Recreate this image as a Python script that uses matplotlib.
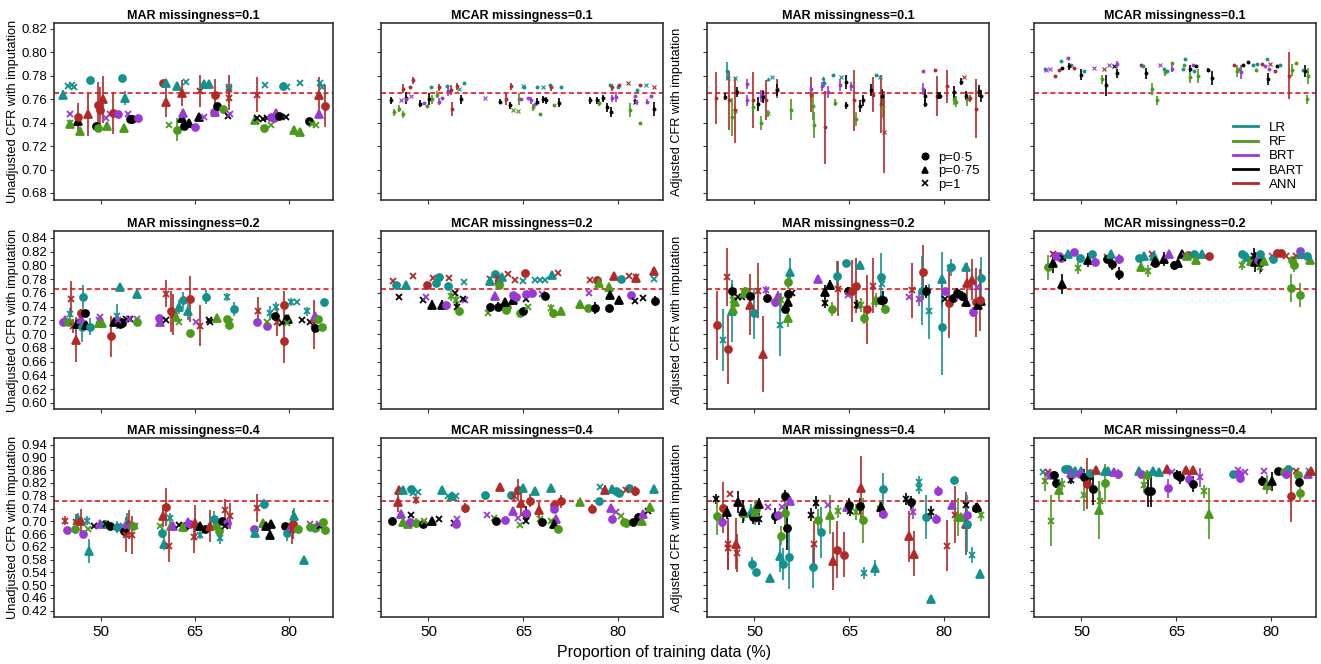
import numpy as np
import matplotlib
matplotlib.use("Agg")
import matplotlib.pyplot as plt
from matplotlib.lines import Line2D

plt.rcParams['font.family'] = ['Liberation Sans', 'DejaVu Sans']

# models and their colours
model_names = ['LR', 'RF', 'BRT', 'BART', 'ANN']
model_codes = ['L', 'F', 'B', 'K', 'A']
model_colors = ['#14918d', '#4b9a1b', '#9a3ad4', '#000000', '#b02a28']
shape_labels = ['p=0·5', 'p=0·75', 'p=1']
shape_markers = ['o', '^', 'x']
x_ticks = [50, 65, 80]
reference_cfr = 0.765

# each point: (training data %, CFR, half length of error bar, model code + marker)
mar01_unadj = [
    (44.0, .764, .004, 'L^'), (44.8, .771, 0, 'Lx'), (45.3, .772, 0, 'Lx'), (45.7, .770, 0, 'Lx'),
    (45.1, .739, 0, 'F^'), (45.1, .740, 0, 'Fx'), (46.6, .733, .003, 'F^'), (45.1, .747, 0, 'Bx'),
    (46.3, .741, 0, 'K^'), (46.4, .745, .012, 'Ao'), (48.0, .747, .018, 'A^'), (48.2, .776, .003, 'Lo'),
    (49.2, .737, 0, 'Ko'), (49.5, .755, .02, 'Ao'), (49.8, .751, .019, 'Ao'), (49.6, .735, 0, 'Fo'),
    (50.3, .760, .02, 'A^'), (51.0, .737, 0, 'F^'), (50.8, .744, 0, 'Bx'), (51.5, .747, 0, 'Bx'),
    (52.0, .748, .018, 'Ao'), (52.8, .747, 0, 'Bo'), (53.3, .778, 0, 'Lo'), (53.7, .735, 0, 'F^'),
    (53.9, .761, .006, 'L^'), (54.4, .747, 0, 'Bx'), (54.6, .743, 0, 'Ko'), (54.9, .743, 0, 'Ko'),
    (55.9, .744, 0, 'Bo'),
    (60.0, .774, 0, 'Ao'), (60.4, .774, 0, 'L^'), (60.4, .758, .013, 'A^'), (60.9, .738, 0, 'Fx'),
    (62.2, .734, .01, 'Fo'), (62.2, .771, 0, 'L^'), (62.9, .765, .011, 'A^'), (62.9, .744, 0, 'K^'),
    (63.1, .748, 0, 'B^'), (63.3, .737, 0, 'Ko'), (64.1, .740, 0, 'K^'), (63.6, .775, 0, 'Lx'),
    (65.0, .736, 0, 'Bo'), (65.7, .745, 0, 'K^'), (65.8, .767, .014, 'Ax'), (66.4, .745, 0, 'Bx'),
    (66.5, .773, 0, 'L^'), (67.3, .773, 0, 'L^'), (68.2, .764, .013, 'Ao'), (68.3, .749, 0, 'B^'),
    (68.0, .749, 0, 'Bo'), (68.5, .754, 0, 'Ko'), (69.5, .752, 0, 'Fo'), (70.4, .769, .012, 'Ax'),
    (70.4, .761, .01, 'Ax'), (70.4, .770, 0, 'Lx'), (70.3, .746, 0, 'Kx'), (70.6, .747, 0, 'Bx'),
    (74.7, .742, 0, 'F^'), (74.9, .764, .015, 'Ax'), (74.9, .744, 0, 'Kx'), (75.9, .743, 0, 'Kx'),
    (76.5, .744, 0, 'Kx'), (76.1, .735, .003, 'Fo'), (76.2, .772, 0, 'Lx'), (77.2, .738, 0, 'Fx'),
    (77.2, .745, 0, 'Bo'), (77.6, .744, 0, 'Bo'), (78.0, .748, 0, 'B^'), (78.4, .746, 0, 'Ko'),
    (79.6, .745, 0, 'Kx'), (79.1, .771, 0, 'Lo'), (79.8, .770, 0, 'Lx'), (80.8, .734, 0, 'F^'),
    (81.8, .732, 0, 'F^'), (81.9, .774, 0, 'Lx'), (83.2, .741, 0, 'Ko'), (83.7, .739, 0, 'Fx'),
    (84.4, .738, 0, 'Fx'), (84.8, .764, .015, 'A^'), (84.8, .747, 0, 'B^'), (85.0, .774, 0, 'Lx'),
    (85.3, .770, 0, 'Lx'), (85.9, .754, .018, 'Ao'),
]

mcar01_unadj = [
    (44.1, .759, .003, 'Ko'), (44.5, .749, .003, 'Fo'), (45.4, .752, .003, 'Fo'), (46.0, .747, .003, 'Fo'),
    (46.0, .769, .004, 'Ao'), (47.1, .770, 0, 'Ao'), (47.6, .776, .003, 'Ao'), (46.4, .761, .005, 'Ko'),
    (45.7, .759, 0, 'Bx'), (46.5, .760, 0, 'Bo'), (47.3, .763, 0, 'Bx'), (48.7, .756, .003, 'Ko'),
    (49.3, .757, 0, 'Bo'), (49.7, .754, 0, 'Fo'), (50.1, .760, .005, 'Ko'), (50.4, .770, 0, 'Lo'),
    (50.5, .760, .004, 'Fo'), (51.3, .764, .003, 'Fo'), (51.6, .758, .003, 'Bo'), (52.2, .761, 0, 'Bo'),
    (51.7, .770, .003, 'Ao'), (52.9, .771, 0, 'Lo'), (53.1, .767, .004, 'Bo'), (53.5, .768, .004, 'Ao'),
    (53.8, .752, .006, 'Ao'), (54.5, .771, .003, 'Ao'), (54.9, .769, 0, 'Lx'), (55.6, .774, 0, 'Lo'),
    (55.2, .760, .004, 'Ko'),
    (59.0, .761, 0, 'Bx'), (61.3, .758, .002, 'Ko'), (62.3, .760, .005, 'Ao'), (62.9, .755, .003, 'Ko'),
    (63.0, .771, .003, 'Ao'), (63.4, .751, 0, 'Fx'), (64.2, .750, 0, 'Fx'), (64.3, .760, .005, 'Fo'),
    (65.0, .771, 0, 'Lx'), (65.1, .770, 0, 'Lo'), (64.6, .760, 0, 'Bo'), (65.7, .761, 0, 'Bo'),
    (66.3, .759, .003, 'Bo'), (66.6, .753, .003, 'Fo'), (66.9, .756, 0, 'Bo'), (67.1, .758, .003, 'Ko'),
    (67.2, .770, 0, 'Lo'), (67.7, .747, 0, 'Fo'), (68.2, .770, 0, 'Lx'), (68.1, .760, .003, 'Ko'),
    (68.6, .759, .003, 'Ko'), (69.3, .772, 0, 'Lo'), (69.4, .770, .003, 'Ao'), (69.8, .755, 0, 'Fo'),
    (70.7, .757, .004, 'Ko'), (70.9, .770, 0, 'Lo'),
    (75.5, .759, .003, 'Ko'), (76.6, .759, .003, 'Ko'), (77.0, .757, .003, 'Fo'), (78.2, .753, .004, 'Ko'),
    (78.8, .749, .004, 'Ko'), (77.6, .761, .003, 'Ko'), (78.7, .772, 0, 'Lo'), (79.1, .770, .003, 'Ao'),
    (79.1, .761, .003, 'Bo'), (79.7, .762, .004, 'Bo'), (80.0, .770, 0, 'Lo'), (80.2, .772, 0, 'Ao'),
    (81.5, .774, 0, 'Ax'), (81.9, .751, .006, 'Fo'), (82.6, .758, .002, 'Kx'), (82.7, .763, 0, 'Bo'),
    (82.8, .758, 0, 'Bo'), (83.0, .768, 0, 'Lo'), (83.5, .772, 0, 'Ao'), (84.4, .772, 0, 'Lx'),
    (83.5, .740, 0, 'Fo'), (84.6, .758, .002, 'Bo'), (85.7, .770, 0, 'Ax'), (85.6, .752, .006, 'Ko'),
    (85.2, .763, 0, 'Bo'),
]

mar01_adj = [
    (44.0, .761, .022, 'Ao'), (45.3, .762, .003, 'Ko'), (45.6, .784, .008, 'Lo'), (45.9, .778, 0, 'Lx'),
    (47.0, .778, 0, 'Lx'), (46.0, .759, .025, 'Ao'), (47.3, .766, .004, 'Ko'), (46.5, .745, .016, 'Fo'),
    (47.0, .750, .003, 'Fx'), (47.0, .751, .028, 'Ao'), (48.9, .773, .004, 'Bo'), (48.9, .759, .005, 'Bo'),
    (49.7, .759, .024, 'Ao'), (49.8, .753, .006, 'Fo'), (50.5, .756, .006, 'Ko'), (51.0, .740, .006, 'Fo'),
    (51.0, .763, .005, 'Bo'), (51.4, .763, .005, 'Bo'), (51.3, .762, .005, 'Ko'), (51.8, .759, .017, 'Ao'),
    (52.2, .748, .003, 'Fx'), (52.1, .777, 0, 'L^'), (52.8, .779, 0, 'Lx'), (53.6, .769, .008, 'Ao'),
    (53.6, .768, .005, 'Ko'), (55.8, .751, .009, 'Fo'),
    (59.0, .764, .015, 'Ao'), (59.0, .769, .004, 'Bo'), (59.2, .754, .012, 'Fo'), (59.4, .738, .011, 'Fo'),
    (60.8, .778, 0, 'L^'), (61.0, .774, .004, 'Lo'), (62.4, .781, 0, 'Lo'), (63.7, .779, 0, 'Lx'),
    (60.7, .771, .004, 'Bo'), (61.7, .766, .005, 'Bo'), (61.2, .736, .031, 'Ao'), (62.8, .757, .003, 'Fo'),
    (64.5, .775, .006, 'Ko'), (63.6, .772, .005, 'Bo'), (65.2, .771, .004, 'Bo'), (64.5, .755, .003, 'Ko'),
    (65.7, .759, .026, 'Ao'), (66.0, .743, .006, 'Fo'), (66.7, .754, .005, 'Ko'), (67.2, .759, .005, 'Ko'),
    (68.5, .768, .005, 'Ko'), (69.2, .781, 0, 'Lo'), (69.8, .779, 0, 'Lx'), (68.7, .764, .015, 'Ao'),
    (70.2, .763, .006, 'Ko'), (70.0, .756, .025, 'Ao'), (70.4, .753, .009, 'Fo'), (70.5, .732, .035, 'Ax'),
    (76.6, .784, 0, 'Bo'), (76.6, .769, .005, 'Bo'), (77.0, .756, .003, 'Ko'), (77.0, .763, .006, 'Ko'),
    (78.6, .785, 0, 'Ao'), (78.8, .763, .017, 'Ao'), (79.1, .763, .003, 'Ko'), (79.4, .763, .003, 'Ko'),
    (80.4, .771, .014, 'Ao'), (82.7, .775, .003, 'Ko'), (83.1, .779, 0, 'Ax'), (81.5, .760, .005, 'Fo'),
    (81.9, .758, .005, 'Fo'), (81.5, .766, .005, 'Ko'), (83.6, .760, .006, 'Fo'), (83.4, .763, .004, 'Ko'),
    (84.1, .761, .003, 'Ao'), (85.0, .752, .025, 'Ao'), (85.5, .767, .005, 'Ko'), (85.9, .763, .005, 'Ko'),
]

mcar01_adj = [
    (44.3, .786, 0, 'Lo'), (44.4, .785, 0, 'Bx'), (45.0, .786, 0, 'Bx'), (45.9, .780, 0, 'Ao'),
    (46.4, .785, 0, 'Ao'), (46.8, .793, 0, 'Lo'), (46.9, .787, 0, 'Ko'), (47.9, .795, 0, 'Bo'),
    (48.3, .789, 0, 'Lo'), (48.1, .788, .003, 'Ko'), (48.8, .787, 0, 'Ao'), (49.9, .781, .005, 'Ko'),
    (50.4, .784, 0, 'Lo'), (52.0, .787, 0, 'Bx'), (53.2, .777, .004, 'Fo'), (53.9, .772, .009, 'Ko'),
    (53.6, .786, 0, 'Ax'), (54.3, .789, 0, 'Bx'), (55.2, .788, 0, 'Kx'), (55.7, .790, .003, 'Bo'),
    (55.7, .782, .004, 'Ko'),
    (59.4, .789, 0, 'Ao'), (59.8, .788, 0, 'Lo'), (60.2, .782, .005, 'Ko'), (61.1, .769, .005, 'Fo'),
    (62.0, .759, .004, 'Fo'), (62.5, .789, 0, 'Bx'), (63.1, .786, 0, 'Lo'), (63.5, .784, 0, 'Lo'),
    (63.2, .783, .003, 'Fo'), (64.3, .791, 0, 'Fo'), (64.3, .786, .003, 'Bo'), (66.0, .786, 0, 'Lo'),
    (66.4, .794, 0, 'Lo'), (66.3, .789, 0, 'Fo'), (67.2, .779, .005, 'Fo'), (67.2, .786, .003, 'Ko'),
    (67.6, .789, 0, 'Bo'), (68.1, .788, 0, 'Ko'), (67.8, .784, 0, 'Lo'), (68.4, .780, .006, 'Fo'),
    (70.0, .785, .002, 'Ko'), (70.7, .778, .006, 'Ko'),
    (74.1, .789, 0, 'Ao'), (74.6, .784, .005, 'Fo'), (74.9, .786, 0, 'Fo'), (75.3, .783, .006, 'Bo'),
    (76.4, .792, 0, 'Ko'), (75.5, .789, 0, 'Ko'), (77.1, .789, 0, 'Lo'), (77.6, .785, 0, 'Fo'),
    (77.8, .790, 0, 'Lo'), (79.4, .794, 0, 'Lo'), (78.6, .790, 0, 'Ao'), (79.9, .790, 0, 'Ax'),
    (79.1, .788, 0, 'Bo'), (79.6, .786, 0, 'Bo'), (79.5, .777, .005, 'Ko'), (81.0, .788, 0, 'Ko'),
    (80.6, .784, 0, 'Ao'), (81.4, .789, 0, 'Lo'), (82.8, .780, .02, 'Ao'), (83.3, .785, .005, 'Fo'),
    (83.9, .791, 0, 'Fo'), (85.0, .785, 0, 'Lo'), (85.3, .784, .005, 'Ko'), (85.8, .780, .007, 'Fo'),
    (85.6, .760, .004, 'Fo'),
]

mar02_unadj = [
    (44.0, .717, 0, 'Bo'), (44.3, .721, 0, 'B^'), (45.0, .729, .009, 'Lx'), (45.2, .751, .026, 'Ax'),
    (44.8, .717, 0, 'Fo'), (45.5, .712, .01, 'Ax'), (46.0, .692, .033, 'A^'), (46.2, .716, 0, 'F^'),
    (46.1, .714, 0, 'K^'), (46.8, .722, 0, 'B^'), (46.8, .731, .006, 'Ao'), (47.5, .730, 0, 'Ko'),
    (46.9, .711, .023, 'Lo'), (47.6, .713, 0, 'K^'), (47.2, .754, .018, 'Lo'), (48.2, .711, .012, 'Lo'),
    (49.7, .721, 0, 'Bx'), (49.7, .716, 0, 'F^'), (50.2, .716, 0, 'F^'), (49.8, .725, 0, 'Bx'),
    (51.6, .697, .03, 'Ao'), (52.6, .726, .018, 'Lx'), (52.1, .717, 0, 'K^'), (53.0, .714, 0, 'Ko'),
    (53.2, .717, 0, 'Ko'), (53.4, .716, 0, 'Ko'), (53.1, .768, .005, 'L^'), (52.8, .721, 0, 'Bx'),
    (54.0, .722, 0, 'Kx'), (54.6, .722, 0, 'Kx'), (54.5, .722, 0, 'Bx'), (55.7, .722, 0, 'Bx'),
    (55.7, .759, .007, 'L^'), (55.7, .717, 0, 'Fo'),
    (59.3, .723, 0, 'Bo'), (59.5, .717, 0, 'B^'), (60.4, .721, 0, 'Kx'), (60.4, .759, .02, 'Ax'),
    (61.2, .733, .03, 'Ao'), (61.6, .729, .03, 'Ao'), (62.0, .725, 0, 'F^'), (62.5, .718, 0, 'Fx'),
    (62.5, .739, .01, 'L^'), (63.2, .749, .012, 'Lo'), (63.9, .733, .012, 'L^'), (64.3, .751, .034, 'Ao'),
    (64.3, .701, .003, 'Fo'), (65.2, .718, 0, 'Bx'), (65.9, .712, .03, 'Ax'), (66.8, .754, .01, 'Lo'),
    (67.2, .721, 0, 'Kx'), (67.5, .718, 0, 'Kx'), (68.6, .723, 0, 'F^'), (70.1, .754, .006, 'Lx'),
    (70.2, .722, 0, 'Fo'), (70.4, .713, 0, 'Fo'), (70.7, .718, 0, 'Fx'), (71.2, .736, .01, 'Lo'),
    (75.1, .734, .02, 'Ax'), (75.0, .717, 0, 'Bo'), (76.5, .712, 0, 'Bo'), (76.6, .717, 0, 'Fx'),
    (77.0, .731, .01, 'Lx'), (78.1, .717, .02, 'Ax'), (77.9, .726, 0, 'Ko'), (78.9, .716, 0, 'Kx'),
    (79.3, .742, .02, 'Ao'), (79.3, .690, .032, 'Ao'), (78.0, .740, .007, 'Lx'), (79.6, .722, 0, 'K^'),
    (79.9, .722, 0, 'K^'), (79.7, .716, 0, 'Fx'), (80.4, .747, .006, 'Lx'), (81.4, .747, 0, 'Lx'),
    (82.2, .721, 0, 'Kx'), (83.4, .718, 0, 'Kx'), (84.0, .714, .035, 'Ax'), (82.9, .733, .006, 'Lx'),
    (84.2, .727, 0, 'B^'), (84.7, .722, 0, 'Fo'), (84.2, .709, 0, 'Ko'), (85.3, .710, 0, 'Fo'),
    (85.6, .746, .007, 'Lo'),
]

mcar02_unadj = [
    (44.4, .777, 0, 'Ax'), (44.8, .772, 0, 'Lo'), (45.4, .754, 0, 'Kx'), (46.5, .771, 0, 'L^'),
    (47.6, .784, 0, 'Ax'), (49.2, .750, 0, 'Kx'), (49.6, .754, 0, 'Bx'), (50.5, .743, .006, 'K^'),
    (49.7, .772, 0, 'Ao'), (50.7, .782, 0, 'Ax'), (51.2, .775, 0, 'Lo'), (51.7, .783, 0, 'Lo'),
    (52.1, .743, .006, 'K^'), (52.8, .742, 0, 'Bo'), (53.3, .782, 0, 'Ax'), (53.1, .770, 0, 'Lo'),
    (54.2, .760, 0, 'Kx'), (53.6, .755, .007, 'Fx'), (54.4, .750, .007, 'Fx'), (54.5, .740, .007, 'Kx'),
    (54.8, .733, 0, 'Fo'), (55.8, .750, 0, 'Bx'), (55.4, .751, 0, 'Kx'), (55.6, .776, 0, 'Lx'),
    (59.4, .730, 0, 'Fx'), (59.7, .739, .006, 'Ko'), (59.7, .780, 0, 'Ax'), (59.8, .777, 0, 'L^'),
    (60.5, .788, 0, 'Lo'), (60.5, .755, 0, 'B^'), (61.0, .740, .006, 'Ko'), (61.1, .779, 0, 'A^'),
    (61.0, .781, 0, 'Ax'), (61.2, .772, .007, 'Fo'), (61.7, .783, 0, 'L^'), (62.2, .735, 0, 'Fo'),
    (62.5, .740, 0, 'Fo'), (62.1, .746, .006, 'K^'), (62.6, .788, 0, 'Ax'), (63.4, .749, .006, 'K^'),
    (63.4, .757, 0, 'Bo'), (63.8, .754, 0, 'Bo'), (63.7, .779, 0, 'Ax'), (64.5, .730, 0, 'Fo'),
    (65.0, .733, 0, 'Ko'), (65.2, .789, .004, 'Ao'), (65.0, .777, 0, 'Lx'), (65.5, .751, 0, 'Kx'),
    (65.5, .758, 0, 'Bo'), (66.4, .760, 0, 'Bo'), (65.8, .739, 0, 'Fx'), (66.9, .779, 0, 'Lx'),
    (67.7, .779, 0, 'Lx'), (68.4, .779, 0, 'Lx'), (67.9, .759, 0, 'Bx'), (68.4, .755, .006, 'Ko'),
    (69.6, .786, 0, 'L^'), (70.5, .789, 0, 'Ax'), (69.4, .738, .006, 'Fx'), (69.7, .730, .006, 'Fo'),
    (71.0, .734, 0, 'F^'),
    (74.0, .744, 0, 'F^'), (75.3, .738, 0, 'Fo'), (75.5, .779, 0, 'Ax'), (75.4, .760, 0, 'Bx'),
    (76.3, .738, .009, 'Ko'), (76.7, .778, 0, 'Ao'), (76.9, .775, 0, 'F^'), (78.5, .768, .006, 'F^'),
    (78.5, .738, 0, 'Ko'), (78.7, .757, .006, 'K^'), (79.4, .784, .005, 'A^'), (80.2, .750, .006, 'K^'),
    (80.4, .780, 0, 'Lo'), (81.8, .784, 0, 'Ax'), (82.0, .757, 0, 'Bo'), (82.6, .748, 0, 'Kx'),
    (82.8, .781, .004, 'A^'), (82.9, .783, 0, 'Ax'), (84.0, .752, 0, 'Kx'), (85.7, .792, 0, 'A^'),
    (85.7, .780, 0, 'Lx'), (85.9, .748, .007, 'Ko'),
]

mar02_adj = [
    (44.1, .713, .05, 'Ao'), (45.0, .691, .045, 'Lx'), (45.6, .783, .042, 'Ax'), (45.8, .678, .05, 'Ao'),
    (46.5, .763, .01, 'Ko'), (46.4, .733, .045, 'L^'), (46.6, .736, .007, 'F^'), (46.6, .750, .012, 'Fx'),
    (46.9, .747, .007, 'F^'), (47.4, .754, 0, 'Kx'), (48.0, .754, 0, 'Kx'), (48.5, .763, .006, 'Fo'),
    (48.3, .760, 0, 'F^'), (49.3, .755, 0, 'Ko'), (49.3, .743, .045, 'A^'), (49.9, .730, .037, 'Lo'),
    (50.5, .763, .04, 'Ax'), (51.4, .671, .055, 'A^'), (51.9, .764, .006, 'Bx'), (52.0, .752, .007, 'Ko'),
    (53.2, .746, .006, 'Bo'), (53.7, .755, .007, 'B^'), (54.0, .713, .045, 'Lx'), (54.2, .750, .01, 'Fx'),
    (54.9, .736, .006, 'Ko'), (55.3, .746, .01, 'K^'), (55.3, .758, .006, 'Ko'), (55.3, .776, .01, 'Fo'),
    (55.3, .723, .012, 'F^'), (55.6, .791, .02, 'L^'), (55.9, .760, 0, 'Kx'),
    (60.1, .780, .006, 'B^'), (61.1, .761, .01, 'K^'), (61.1, .745, .007, 'Kx'), (62.2, .736, .01, 'Fo'),
    (61.9, .771, .007, 'K^'), (63.0, .785, .022, 'Lo'), (63.2, .766, .04, 'Ax'), (64.5, .804, 0, 'Lo'),
    (64.8, .763, .005, 'Ko'), (64.8, .757, 0, 'Bx'), (65.4, .763, .045, 'Ao'), (66.7, .801, 0, 'L^'),
    (66.1, .770, .04, 'Ao'), (66.2, .743, .007, 'Kx'), (66.8, .742, .01, 'Fx'), (67.3, .724, .01, 'Fo'),
    (67.8, .736, .05, 'Ao'), (68.8, .770, .04, 'Ax'), (69.3, .750, .01, 'F^'), (70.0, .750, .007, 'Ko'),
    (70.0, .783, .035, 'Lo'), (70.2, .773, 0, 'Lx'), (70.4, .750, .012, 'Ko'), (70.6, .736, .007, 'Fo'),
    (74.4, .754, 0, 'Bx'), (74.9, .764, .04, 'Ax'), (76.0, .751, .01, 'Bx'), (76.6, .790, .04, 'Ao'),
    (76.5, .763, .05, 'Lo'), (77.1, .762, .01, 'Ko'), (77.6, .733, .04, 'Lx'), (79.6, .711, .07, 'Lo'),
    (79.6, .780, .04, 'L^'), (80.2, .763, 0, 'Bo'), (80.2, .751, 0, 'Kx'), (80.9, .796, 0, 'Lx'),
    (81.1, .797, .012, 'Lo'), (80.8, .745, .05, 'Ao'), (81.4, .752, .007, 'Ko'), (82.3, .754, 0, 'Bx'),
    (82.0, .760, .007, 'Ko'), (82.8, .755, .007, 'Ko'), (83.5, .746, .007, 'K^'), (83.5, .797, 0, 'L^'),
    (83.6, .774, .03, 'A^'), (84.4, .779, .03, 'A^'), (84.5, .732, .007, 'Bo'), (85.0, .746, .05, 'Ao'),
    (85.2, .768, 0, 'Bx'), (85.3, .743, 0, 'K^'), (85.9, .748, 0, 'K^'), (85.8, .782, .03, 'Lo'),
    (85.6, .749, .045, 'Ao'),
]

mcar02_adj = [
    (44.7, .797, .018, 'Fo'), (45.5, .804, .015, 'K^'), (45.5, .816, 0, 'Ax'), (46.0, .813, 0, 'Bo'),
    (46.4, .813, 0, 'Bo'), (46.8, .811, 0, 'Bo'), (47.1, .810, 0, 'Kx'), (46.9, .773, .014, 'K^'),
    (47.8, .816, 0, 'L^'), (48.9, .819, 0, 'Bo'), (49.8, .810, 0, 'Lo'), (49.5, .796, .009, 'Fx'),
    (51.0, .808, .01, 'K^'), (51.7, .816, 0, 'Lo'), (52.2, .805, .006, 'Bo'), (54.0, .812, 0, 'Ax'),
    (54.0, .809, .006, 'Ko'), (54.6, .817, 0, 'L^'), (54.8, .802, .009, 'Ko'), (55.9, .809, .007, 'Bo'),
    (55.9, .788, .009, 'Ko'),
    (59.1, .811, 0, 'Lo'), (59.9, .813, 0, 'L^'), (59.4, .798, .007, 'F^'), (60.5, .792, .009, 'Fx'),
    (61.2, .816, 0, 'Ax'), (61.4, .813, 0, 'L^'), (61.7, .807, .007, 'K^'), (61.7, .804, 0, 'Ko'),
    (63.0, .809, .01, 'K^'), (63.8, .816, 0, 'B^'), (64.6, .800, .007, 'Ko'), (65.2, .803, .007, 'K^'),
    (65.9, .816, 0, 'K^'), (66.4, .813, 0, 'Bx'), (66.8, .815, 0, 'Ao'), (66.7, .814, 0, 'F^'),
    (67.8, .816, 0, 'Lo'), (68.2, .808, .006, 'F^'), (69.1, .817, 0, 'L^'), (70.1, .813, 0, 'Ao'),
    (75.4, .817, 0, 'Lo'), (75.4, .800, .007, 'Fx'), (76.2, .812, 0, 'L^'), (76.8, .806, .007, 'F^'),
    (77.3, .813, .012, 'Kx'), (77.4, .805, .015, 'K^'), (77.9, .808, 0, 'Bo'), (78.3, .798, .01, 'Fx'),
    (78.4, .805, .015, 'Ko'), (78.2, .816, 0, 'Lo'), (78.9, .807, 0, 'F^'), (80.2, .813, 0, 'Bx'),
    (80.3, .809, 0, 'Lo'), (80.9, .818, 0, 'Ao'), (81.6, .818, 0, 'Ao'), (82.3, .813, 0, 'Ax'),
    (83.3, .808, 0, 'Fo'), (83.2, .767, .02, 'Fo'), (84.5, .757, .017, 'Fo'), (83.6, .801, .01, 'Fo'),
    (84.0, .814, 0, 'Ax'), (84.5, .821, 0, 'Bo'), (84.7, .816, 0, 'L^'), (85.2, .813, 0, 'Bx'),
    (86.1, .808, 0, 'F^'), (85.7, .813, 0, 'Lo'),
]

mar04_unadj = [
    (44.3, .702, .015, 'Ax'), (44.5, .672, 0, 'Bo'), (46.3, .707, .02, 'L^'), (45.9, .676, 0, 'Fo'),
    (46.0, .697, .025, 'Ax'), (46.8, .700, .04, 'A^'), (47.2, .660, 0, 'Bo'), (47.8, .702, .015, 'Lx'),
    (48.1, .606, .038, 'L^'), (48.0, .676, 0, 'Fx'), (48.9, .686, 0, 'Kx'), (49.9, .693, 0, 'B^'),
    (50.6, .690, .015, 'Lo'), (50.8, .690, 0, 'Kx'), (51.5, .686, 0, 'Ko'), (52.5, .682, .02, 'Lo'),
    (53.7, .669, 0, 'Ko'), (53.5, .686, 0, 'Bx'), (54.1, .695, .03, 'L^'), (54.0, .658, .055, 'Ax'),
    (54.5, .690, .045, 'A^'), (54.9, .658, .06, 'Ax'), (54.2, .686, 0, 'Bx'), (55.4, .686, 0, 'Bx'),
    (55.2, .686, 0, 'Fo'),
    (59.5, .686, 0, 'Fx'), (59.7, .663, .015, 'Lo'), (60.0, .716, .035, 'A^'), (60.1, .630, .02, 'L^'),
    (60.4, .745, .06, 'Ao'), (61.2, .686, 0, 'F^'), (61.0, .710, .015, 'Lx'), (60.9, .622, .05, 'Ax'),
    (61.6, .684, 0, 'B^'), (62.5, .689, 0, 'Kx'), (63.5, .686, 0, 'Ko'), (63.9, .697, 0, 'B^'),
    (63.2, .682, 0, 'F^'), (64.2, .690, 0, 'Bo'), (65.0, .695, .055, 'A^'), (64.8, .651, .05, 'Ax'),
    (65.8, .686, 0, 'K^'), (65.9, .658, .015, 'Lx'), (66.7, .676, 0, 'Ko'), (67.4, .684, .05, 'A^'),
    (68.5, .689, 0, 'F^'), (68.1, .707, .025, 'Lo'), (68.9, .669, 0, 'Fo'), (69.1, .648, .02, 'Lx'),
    (69.3, .700, 0, 'Ko'), (70.1, .694, 0, 'Bo'), (69.8, .686, 0, 'Kx'), (69.9, .734, .035, 'Ax'),
    (70.6, .716, .04, 'Ax'),
    (74.4, .676, 0, 'Bo'), (74.7, .663, .015, 'L^'), (74.9, .742, .045, 'Ax'), (76.1, .755, .015, 'Lo'),
    (75.9, .695, 0, 'F^'), (76.6, .686, 0, 'Bx'), (76.4, .686, 0, 'K^'), (77.2, .690, 0, 'K^'),
    (77.0, .658, 0, 'K^'), (79.5, .684, 0, 'Ko'), (79.7, .663, .025, 'Lo'), (80.4, .686, 0, 'B^'),
    (80.6, .674, .045, 'Ax'), (80.7, .690, .045, 'Ao'), (80.9, .718, .025, 'L^'), (82.4, .580, 0, 'L^'),
    (81.5, .676, .012, 'Fo'), (83.5, .693, 0, 'Bx'), (83.5, .682, 0, 'Fo'), (84.3, .679, .012, 'Lo'),
    (84.4, .682, 0, 'Fo'), (85.0, .686, 0, 'Kx'), (84.9, .693, 0, 'Bx'), (85.5, .697, 0, 'Fo'),
    (85.8, .674, 0, 'Fo'),
]

mcar04_unadj = [
    (44.3, .700, .012, 'Ko'), (45.2, .759, .03, 'A^'), (45.3, .799, 0, 'A^'), (46.0, .799, 0, 'L^'),
    (45.7, .723, 0, 'B^'), (46.0, .698, 0, 'F^'), (46.8, .692, 0, 'F^'), (47.2, .721, 0, 'Kx'),
    (47.2, .801, 0, 'Lo'), (48.1, .768, .015, 'Ax'), (47.6, .789, 0, 'Lx'), (48.4, .791, 0, 'Lx'),
    (47.1, .698, 0, 'Bo'), (48.1, .695, .015, 'Fo'), (49.1, .692, 0, 'Ko'), (49.3, .702, 0, 'Fx'),
    (50.6, .700, 0, 'K^'), (51.6, .708, 0, 'Kx'), (52.1, .799, 0, 'L^'), (53.1, .778, 0, 'Lx'),
    (54.4, .780, 0, 'Lx'), (53.7, .778, 0, 'L^'), (54.1, .695, 0, 'Kx'), (54.3, .692, 0, 'Bo'),
    (54.5, .708, 0, 'Bx'), (55.8, .742, .015, 'Ao'),
    (59.0, .783, .01, 'Lo'), (59.3, .721, 0, 'Bx'), (60.4, .710, 0, 'Fx'), (60.7, .700, 0, 'Ko'),
    (61.3, .806, .01, 'A^'), (62.1, .705, 0, 'Bo'), (63.0, .783, 0, 'Lo'), (63.4, .733, 0, 'B^'),
    (64.2, .710, 0, 'Bx'), (63.6, .778, .015, 'Ax'), (64.2, .799, .035, 'Ao'), (64.5, .687, 0, 'Fx'),
    (64.7, .757, .04, 'A^'), (65.0, .804, 0, 'L^'), (65.5, .723, .025, 'Ko'), (65.5, .700, 0, 'Kx'),
    (65.5, .726, 0, 'Bo'), (66.1, .765, .02, 'Ao'), (66.8, .794, 0, 'L^'), (67.5, .736, .025, 'A^'),
    (67.7, .708, 0, 'Fx'), (67.9, .698, .012, 'Ko'), (69.4, .804, 0, 'L^'), (69.9, .750, .015, 'Ao'),
    (69.9, .740, 0, 'Bo'), (70.9, .763, .02, 'Ao'), (70.2, .708, 0, 'B^'), (69.4, .700, 0, 'Fx'),
    (69.8, .692, 0, 'K^'), (70.5, .677, .012, 'Fo'),
    (74.0, .759, 0, 'F^'), (75.9, .740, .015, 'Ao'), (77.0, .765, 0, 'Lo'), (77.2, .806, 0, 'Lx'),
    (77.9, .799, .015, 'A^'), (79.1, .802, 0, 'L^'), (78.8, .742, 0, 'B^'), (79.0, .708, 0, 'Bo'),
    (79.7, .729, 0, 'Bx'), (79.6, .794, 0, 'Lo'), (80.2, .789, 0, 'Lo'), (81.8, .804, 0, 'Lo'),
    (80.4, .716, 0, 'Fx'), (80.9, .698, 0, 'Fo'), (81.2, .695, 0, 'Fo'), (81.2, .797, 0, 'Ax'),
    (82.6, .794, .015, 'Ao'), (82.4, .698, 0, 'Ko'), (83.2, .713, .012, 'Ko'), (83.8, .702, 0, 'F^'),
    (84.0, .723, 0, 'B^'), (84.8, .731, 0, 'Kx'), (85.1, .744, .012, 'F^'), (85.7, .802, 0, 'L^'),
]

mar04_adj = [
    (44.0, .770, .015, 'Kx'), (44.1, .716, .06, 'Fo'), (44.9, .697, .015, 'Bo'), (45.0, .742, .08, 'Ao'),
    (45.8, .630, .08, 'Ax'), (45.9, .617, .07, 'Ax'), (46.1, .787, 0, 'Ax'), (45.7, .728, .02, 'K^'),
    (47.1, .630, .08, 'A^'), (47.3, .601, .06, 'Ax'), (47.4, .761, .035, 'K^'), (48.3, .726, .025, 'F^'),
    (48.2, .731, .035, 'K^'), (49.4, .728, .025, 'L^'), (49.6, .567, .02, 'Lo'), (50.2, .540, 0, 'Lo'),
    (49.8, .713, .02, 'Ko'), (50.7, .707, .02, 'Kx'), (50.1, .728, .04, 'F^'), (50.3, .737, .025, 'Fo'),
    (50.7, .754, .02, 'K^'), (52.1, .745, 0, 'Bx'), (52.5, .522, 0, 'L^'), (53.2, .717, .025, 'Ko'),
    (53.7, .721, 0, 'Bo'), (54.1, .592, .05, 'L^'), (54.2, .655, .03, 'Fo'), (54.5, .567, .05, 'Lo'),
    (54.4, .745, 0, 'Bx'), (54.8, .779, .02, 'Ko'), (54.8, .726, .06, 'Fo'), (55.2, .679, .07, 'Ko'),
    (55.5, .588, .1, 'Lo'), (55.6, .765, .015, 'B^'),
    (59.0, .721, .02, 'Kx'), (59.3, .557, .065, 'Lo'), (59.4, .630, .07, 'Ax'), (59.7, .758, .02, 'Kx'),
    (60.1, .703, .035, 'Fo'), (60.6, .665, .08, 'Lo'), (61.6, .750, 0, 'Bx'), (62.0, .721, .06, 'F^'),
    (62.4, .575, .09, 'A^'), (63.0, .611, .09, 'Ao'), (63.2, .731, .02, 'Fx'), (64.1, .595, .07, 'Ao'),
    (64.7, .745, 0, 'B^'), (64.9, .752, .02, 'Ko'), (65.1, .731, .015, 'Kx'), (66.0, .728, .025, 'Fx'),
    (66.7, .747, .025, 'Ko'), (66.9, .804, .1, 'A^'), (67.2, .703, .07, 'Fo'), (67.3, .538, .02, 'Lx'),
    (69.0, .554, .025, 'L^'), (69.9, .738, .025, 'Fx'), (70.0, .745, .015, 'K^'), (70.4, .802, .05, 'Lo'),
    (70.4, .724, .015, 'Bo'),
    (74.0, .770, .02, 'Kx'), (74.4, .653, .08, 'A^'), (74.8, .760, .02, 'Ko'), (75.1, .728, .02, 'Bx'),
    (75.2, .599, .07, 'A^'), (76.0, .822, .02, 'Lx'), (76.1, .804, .02, 'Lx'), (77.1, .713, .07, 'Lo'),
    (77.9, .455, 0, 'L^'), (78.0, .728, .02, 'Kx'), (78.7, .707, .015, 'Bo'), (79.0, .794, .015, 'Bo'),
    (81.5, .828, 0, 'Lo'), (80.4, .624, .08, 'Ax'), (81.2, .752, .015, 'B^'), (81.8, .721, .09, 'Ax'),
    (82.2, .713, .06, 'F^'), (82.6, .713, 0, 'F^'), (83.4, .752, .02, 'Kx'), (83.4, .693, .1, 'A^'),
    (83.6, .693, .09, 'Lo'), (83.6, .721, 0, 'Bo'), (84.4, .595, .025, 'Lx'), (85.0, .742, .015, 'Ko'),
    (85.2, .745, 0, 'K^'), (85.6, .536, .015, 'L^'), (85.8, .721, .02, 'Fx'),
]

mcar04_adj = [
    (43.9, .856, 0, 'Lx'), (44.7, .856, 0, 'Ax'), (44.2, .825, .03, 'Fx'), (45.1, .844, 0, 'Bo'),
    (45.7, .846, .012, 'Ko'), (45.2, .702, .08, 'Fx'), (46.0, .820, .015, 'Ko'), (46.5, .799, .035, 'F^'),
    (47.0, .817, .02, 'Fx'), (47.4, .864, 0, 'Lo'), (47.8, .864, 0, 'Lo'), (48.4, .828, .012, 'Kx'),
    (48.3, .851, 0, 'B^'), (49.0, .859, 0, 'L^'), (49.3, .846, 0, 'Bx'), (50.0, .859, 0, 'L^'),
    (49.8, .848, 0, 'Bo'), (50.4, .838, .025, 'Ko'), (50.4, .783, .05, 'Fx'), (50.9, .817, .08, 'Ao'),
    (51.4, .838, .02, 'Kx'), (51.4, .851, 0, 'Lo'), (51.9, .802, .05, 'Ko'), (52.3, .862, 0, 'A^'),
    (52.8, .736, .09, 'F^'), (53.0, .765, .03, 'Fx'), (53.7, .820, .06, 'Fo'), (53.8, .859, 0, 'L^'),
    (54.2, .859, 0, 'L^'), (55.1, .856, 0, 'B^'), (55.8, .848, .015, 'Bo'),
    (59.1, .859, 0, 'L^'), (59.5, .848, 0, 'Bo'), (59.9, .815, .025, 'Fx'), (60.3, .846, .015, 'Fo'),
    (60.6, .796, .05, 'Ko'), (61.0, .796, .05, 'Ko'), (61.3, .859, 0, 'L^'), (62.3, .856, 0, 'L^'),
    (63.6, .864, 0, 'A^'), (63.7, .804, .03, 'Bo'), (64.4, .856, 0, 'Bx'), (65.1, .846, .015, 'Ko'),
    (65.6, .838, .02, 'Ko'), (66.5, .862, 0, 'A^'), (67.6, .862, 0, 'A^'), (67.0, .834, .02, 'Bo'),
    (67.7, .817, .025, 'Ko'), (68.8, .838, .03, 'Bx'), (69.4, .794, .02, 'Fx'), (70.1, .723, .08, 'F^'),
    (73.9, .848, 0, 'Lo'), (74.7, .862, 0, 'Bx'), (75.1, .836, .015, 'Bo'), (75.8, .856, 0, 'Bx'),
    (74.9, .848, 0, 'Bo'), (78.5, .827, .015, 'Ko'), (78.9, .859, 0, 'Bx'), (79.3, .815, .03, 'F^'),
    (80.1, .825, .03, 'K^'), (81.1, .859, 0, 'Ko'), (82.7, .864, 0, 'Lo'), (82.1, .856, 0, 'Fo'),
    (82.3, .848, .015, 'Bo'), (83.1, .778, .08, 'Ao'), (83.9, .859, 0, 'Ax'), (84.3, .846, .015, 'Fo'),
    (84.4, .823, .015, 'Ko'), (84.5, .789, .025, 'Fo'), (85.8, .848, 0, 'B^'), (86.0, .859, 0, 'Lx'),
    (86.3, .859, 0, 'A^'),
]

# panel grid: rows = missingness 0.1 / 0.2 / 0.4, cols = MAR unadj, MCAR unadj, MAR adj, MCAR adj
grid = [
    [mar01_unadj, mcar01_unadj, mar01_adj, mcar01_adj],
    [mar02_unadj, mcar02_unadj, mar02_adj, mcar02_adj],
    [mar04_unadj, mcar04_unadj, mar04_adj, mcar04_adj],
]
levels = ['0.1', '0.2', '0.4']
mechanisms = ['MAR', 'MCAR', 'MAR', 'MCAR']
row_ylims = [(0.674, 0.825), (0.591, 0.850), (0.400, 0.961)]
row_yticks = [np.arange(0.68, 0.8201, 0.02), np.arange(0.60, 0.8401, 0.02), np.arange(0.42, 0.9401, 0.04)]

# pixel boxes of the axes in the 1321x664 picture
col_px = [(54, 333), (381, 663), (707, 989), (1034, 1316)]
row_px = [(23, 200), (231, 409), (438, 617)]
W, H = 1321, 664

color_of = dict(zip(model_codes, model_colors))

fig = plt.figure(figsize=(W / 100, H / 100), dpi=100)

for r in range(3):
    for c in range(4):
        x0, x1 = col_px[c]
        y0, y1 = row_px[r]
        ax = fig.add_axes([x0 / W, 1 - y1 / H, (x1 - x0) / W, (y1 - y0) / H])
        small = (r == 0 and c > 0)
        ax.axhline(reference_cfr, color='#e8383d', lw=1.4, ls=(0, (2.6, 1.6)), zorder=1)
        for x, y, e, code in grid[r][c]:
            col = color_of[code[0]]
            mk = code[1]
            if e > 0:
                ax.vlines(x, y - e, y + e, color=col, lw=1.2, zorder=2)
            if small:
                ms = 2.0 if mk != 'x' else 2.4
                mew = 0.8
            else:
                ms = {'o': 5.0, '^': 5.4, 'x': 5.0}[mk]
                mew = 1.3
            ax.plot(x, y, marker=mk, color=col, ms=ms, mew=mew, ls='none', zorder=3)

        ax.set_xlim(42.5, 87.1)
        ax.set_ylim(*row_ylims[r])
        ax.set_xticks(x_ticks)
        ax.set_yticks(row_yticks[r])
        ax.set_yticklabels(['%.2f' % v for v in row_yticks[r]])
        ax.tick_params(direction='out', length=3, width=0.8, color='#333333',
                       labelsize=9.5, pad=1.5)
        ax.tick_params(axis='x', labelsize=11, pad=3)
        if c > 0:
            ax.tick_params(axis='y', labelleft=False)
        if r < 2:
            ax.tick_params(axis='x', labelbottom=False)
        for s in ax.spines.values():
            s.set_linewidth(1.2)
            s.set_color('#333333')
        ax.set_title('%s missingness=%s' % (mechanisms[c], levels[r]),
                     fontsize=9, fontweight='bold', pad=3)
        if c == 0:
            ax.set_ylabel('Unadjusted CFR with imputation', fontsize=9.2)
            ax.yaxis.set_label_coords(-0.125, 0.5)
        if c == 2:
            ax.set_ylabel('Adjusted CFR with imputation', fontsize=9.2)
            ax.yaxis.set_label_coords(-0.085, 0.5)

        if r == 0 and c == 2:
            handles = [Line2D([], [], marker=m, color='black', ls='none', ms=4.6, mew=1.2)
                       for m in shape_markers]
            ax.legend(handles, shape_labels, loc='lower right', bbox_to_anchor=(1.0, 0.0),
                      frameon=False, fontsize=9.5, handlelength=1.0, handletextpad=0.5,
                      labelspacing=0.1, borderaxespad=0.3)
        if r == 0 and c == 3:
            handles = [Line2D([], [], color=col, lw=2) for col in model_colors]
            ax.legend(handles, model_names, loc='lower right', bbox_to_anchor=(0.99, 0.0),
                      frameon=False, fontsize=9.5, handlelength=1.9, handletextpad=0.8,
                      labelspacing=0.15, borderaxespad=0.3)

fig.text(664 / W, 1 - 652 / H, 'Proportion of training data (%)', ha='center', va='center',
         fontsize=11.5)

fig.savefig('out.png', dpi=100)
